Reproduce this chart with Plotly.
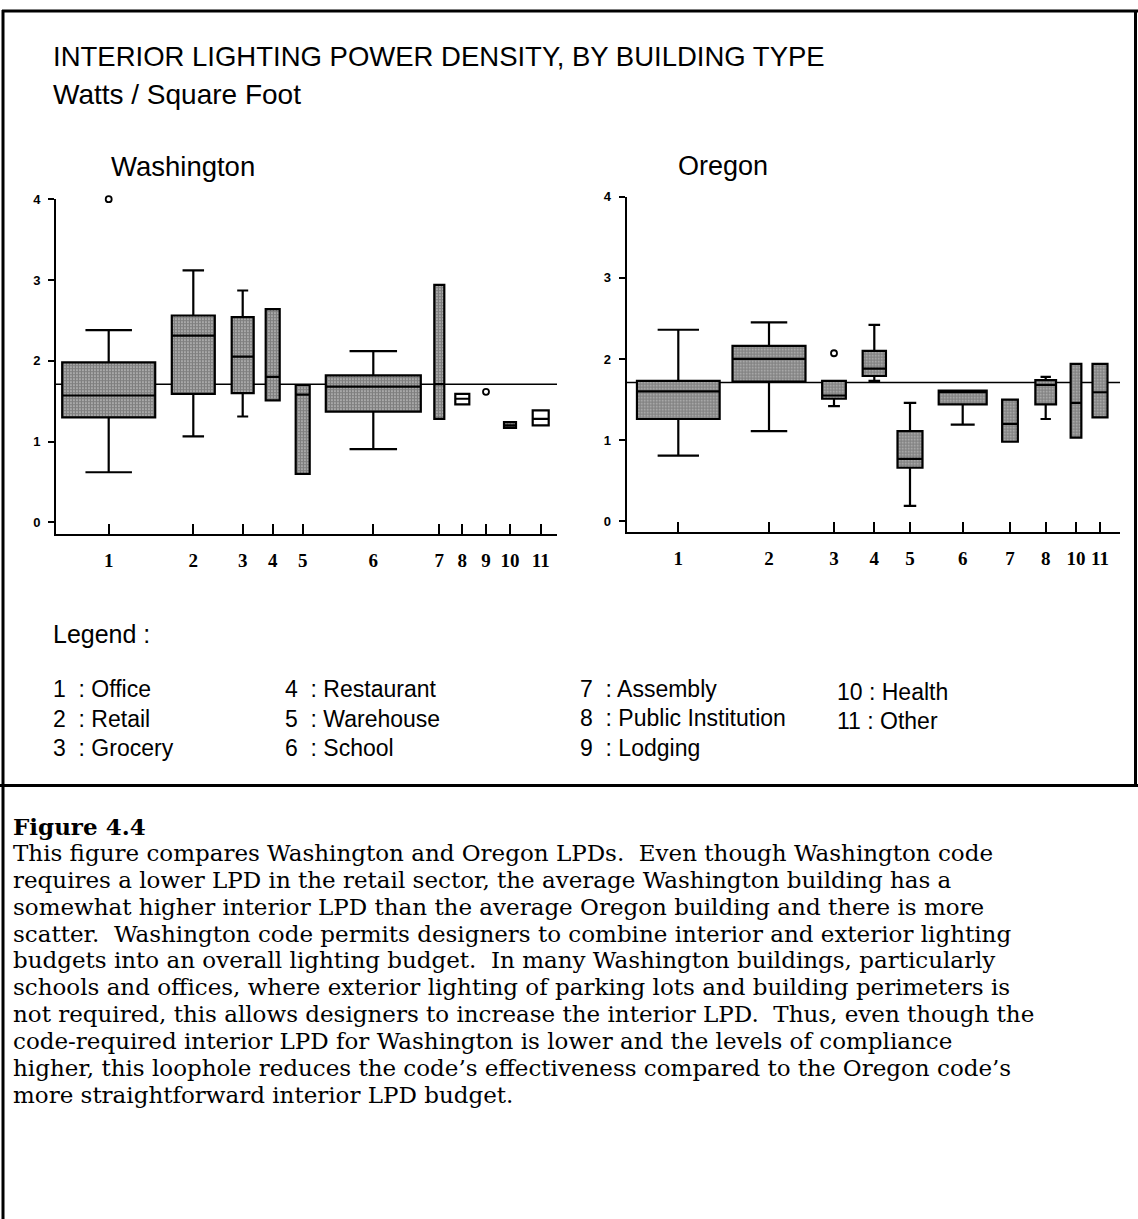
import plotly.graph_objects as go

# ---------------- data ----------------
wa_codes = ["1", "2", "3", "4", "5", "6", "7", "8", "9", "10", "11"]
wa_lo  = [0.62, 1.065, 1.31, 1.51, 0.60, 0.905, 1.28, 1.46, None, 1.17, 1.20]
wa_q1  = [1.30, 1.59, 1.60, 1.51, 0.60, 1.37, 1.28, 1.46, None, 1.17, 1.20]
wa_med = [1.57, 2.31, 2.05, 1.80, 1.58, 1.68, 1.71, 1.53, None, 1.20, 1.28]
wa_q3  = [1.98, 2.56, 2.54, 2.64, 1.70, 1.82, 2.94, 1.59, None, 1.24, 1.385]
wa_hi  = [2.38, 3.12, 2.87, 2.64, 1.70, 2.12, 2.94, 1.59, None, 1.24, 1.385]
wa_pt_codes = ["1", "9"]
wa_pt_vals = [4.00, 1.615]

or_codes = ["1", "2", "3", "4", "5", "6", "7", "8", "10", "11"]
or_lo  = [0.81, 1.11, 1.42, 1.73, 0.19, 1.19, 0.98, 1.26, 1.03, 1.28]
or_q1  = [1.26, 1.72, 1.51, 1.79, 0.66, 1.44, 0.98, 1.44, 1.03, 1.28]
or_med = [1.60, 2.00, 1.55, 1.88, 0.77, 1.59, 1.20, 1.68, 1.46, 1.59]
or_q3  = [1.73, 2.16, 1.73, 2.10, 1.11, 1.61, 1.50, 1.74, 1.94, 1.94]
or_hi  = [2.36, 2.45, 1.73, 2.42, 1.46, 1.61, 1.50, 1.78, 1.94, 1.94]
or_pt_codes = ["3"]
or_pt_vals = [2.07]

code_ref = 1.71  # reference LPD line

legend_items = ["1  : Office", "2  : Retail", "3  : Grocery",
                "4  : Restaurant", "5  : Warehouse", "6  : School",
                "7  : Assembly", "8  : Public Institution", "9  : Lodging",
                "10 : Health", "11 : Other"]

caption_title = "Figure 4.4"
caption_lines = [
    "This figure compares Washington and Oregon LPDs.  Even though Washington code",
    "requires a lower LPD in the retail sector, the average Washington building has a",
    "somewhat higher interior LPD than the average Oregon building and there is more",
    "scatter.  Washington code permits designers to combine interior and exterior lighting",
    "budgets into an overall lighting budget.  In many Washington buildings, particularly",
    "schools and offices, where exterior lighting of parking lots and building perimeters is",
    "not required, this allows designers to increase the interior LPD.  Thus, even though the",
    "code-required interior LPD for Washington is lower and the levels of compliance",
    "higher, this loophole reduces the code\u2019s effectiveness compared to the Oregon code\u2019s",
    "more straightforward interior LPD budget.",
]

# ---------------- layout constants (slot positions / widths on the variable-width axis) ----------------
W, H = 1138, 1219
wa_slot = [52.7, 137.3, 186.7, 216.7, 246.7, 317.3, 383.3, 406.3, 430, 454, 484.7]
wa_width = [93, 43, 22, 14, 14, 95, 10, 14, 0, 12, 16]
wa_fill = [True, True, True, True, True, True, True, False, False, True, False]
or_slot = [51.6, 142.3, 207.3, 247.6, 283.3, 336, 383.3, 419, 449.3, 473.3]
or_width = [82.7, 73, 23.7, 23.3, 25, 48, 15.7, 20.7, 10.7, 15]
or_fill = [True] * 10

def px(x):
    return x / W

def py(y):
    return 1 - y / H

fig = go.Figure()

pattern = dict(shape=".", fgcolor="black", bgcolor="white", size=3, solidity=0.8)

def add_panel(codes, lo, q1, med, q3, hi, slots, widths, fills, pt_codes, pt_vals, xa, ya):
    pos = dict(zip(codes, slots))
    for c, a, b, w, f, s in zip(codes, q1, q3, widths, fills, slots):
        if a is None or not f:
            continue
        fig.add_trace(go.Bar(x=[s], y=[b - a], base=[a], width=w, xaxis=xa, yaxis=ya,
                             marker=dict(color="white", pattern=pattern, line=dict(width=0)),
                             showlegend=False, hoverinfo="skip"))
    for c, l, a, m, b, h, w, s in zip(codes, lo, q1, med, q3, hi, widths, slots):
        if a is None:
            continue
        fig.add_trace(go.Box(x=[s], lowerfence=[l], q1=[a], median=[m], q3=[b], upperfence=[h],
                             width=w, whiskerwidth=0.5, xaxis=xa, yaxis=ya,
                             fillcolor="rgba(0,0,0,0)", line=dict(color="black", width=2.2),
                             boxpoints=False, showlegend=False, hoverinfo="skip"))
    fig.add_trace(go.Scatter(x=[pos[c] for c in pt_codes], y=pt_vals, mode="markers",
                             xaxis=xa, yaxis=ya, cliponaxis=False,
                             marker=dict(symbol="circle-open", size=6, color="black",
                                         line=dict(width=1.8)),
                             showlegend=False, hoverinfo="skip"))
    return pos

wa_pos = add_panel(wa_codes, wa_lo, wa_q1, wa_med, wa_q3, wa_hi, wa_slot, wa_width, wa_fill,
                   wa_pt_codes, wa_pt_vals, "x", "y")
or_pos = add_panel(or_codes, or_lo, or_q1, or_med, or_q3, or_hi, or_slot, or_width, or_fill,
                   or_pt_codes, or_pt_vals, "x2", "y2")

xcommon = dict(showgrid=False, zeroline=False, showline=True, linecolor="black", linewidth=2,
               ticks="inside", ticklen=10, tickwidth=2, tickcolor="black",
               tickfont=dict(family="Liberation Serif", size=19, color="black", weight="bold"),
               ticklabelstandoff=8, fixedrange=True)
ycommon = dict(showgrid=False, zeroline=False, showline=True, linecolor="black", linewidth=2,
               ticks="outside", ticklen=6, tickwidth=1.5, tickcolor="black",
               tickvals=[0, 1, 2, 3, 4], ticktext=["0", "1", "2", "3", "4"],
               tickfont=dict(family="Liberation Sans", size=13, color="black", weight="bold"),
               ticklabelstandoff=5, fixedrange=True)

fig.update_layout(
    width=W, height=H, margin=dict(l=0, r=0, t=0, b=0),
    paper_bgcolor="white", plot_bgcolor="white",
    barmode="overlay", boxmode="overlay", showlegend=False,
    xaxis=dict(domain=[px(56), px(557)], range=[0, 501], anchor="y",
               tickvals=wa_slot, ticktext=wa_codes, **xcommon),
    yaxis=dict(domain=[py(530), py(193.3)], range=[-0.144, 4], anchor="x", **ycommon),
    xaxis2=dict(domain=[px(626.7), px(1120)], range=[0, 493.3], anchor="y2",
                tickvals=or_slot, ticktext=or_codes, **xcommon),
    yaxis2=dict(domain=[py(528.3), py(190.7)], range=[-0.135, 4], anchor="x2", **ycommon),
)

for xr, yr in (("x", "y"), ("x2", "y2")):
    fig.add_shape(type="line", xref=f"{xr} domain", yref=yr, x0=0, x1=1, y0=code_ref, y1=code_ref,
                  line=dict(color="black", width=1.5), layer="below")

frame = dict(color="black", width=3)
fig.add_shape(type="line", xref="paper", yref="paper", x0=px(2), x1=1, y0=py(4), y1=py(4), line=frame)
fig.add_shape(type="line", xref="paper", yref="paper", x0=px(3), x1=px(3), y0=py(3), y1=0, line=frame)
fig.add_shape(type="line", xref="paper", yref="paper", x0=px(1135.5), x1=px(1135.5), y0=py(3), y1=py(783), line=frame)
fig.add_shape(type="line", xref="paper", yref="paper", x0=0, x1=1, y0=py(783), y1=py(783), line=frame)

sans = "Liberation Sans"
serif = "DejaVu Serif"

def text(x, y, s, size, family=sans, weight="normal", xanchor="left"):
    fig.add_annotation(x=px(x), y=py(y), xref="paper", yref="paper", text=s, showarrow=False,
                       xanchor=xanchor, yanchor="middle", align="left", borderpad=0,
                       font=dict(family=family, size=size, color="black", weight=weight))

text(52, 50, "INTERIOR LIGHTING POWER DENSITY, BY BUILDING TYPE", 27.5)
text(52, 88, "Watts / Square Foot", 28)
text(183, 160, "Washington", 27.5, xanchor="center")
text(723, 160, "Oregon", 27, xanchor="center")
text(52, 631, "Legend :", 25)

cols_x = [52, 284, 579, 836]
rows_y = [[686, 716, 745], [686, 716, 745], [686, 715, 745], [689, 718]]
k = 0
for cx, ys in zip(cols_x, rows_y):
    for yy in ys:
        text(cx, yy, legend_items[k].replace("  ", "\u00a0\u00a0"), 23)
        k += 1

text(12, 824, caption_title, 23, family=serif, weight="bold")
for i, line in enumerate(caption_lines):
    text(12, 851 + 27 * i, line.replace("  ", "\u00a0 "), 23, family=serif)

fig.write_html("out.html",
               config={"displayModeBar": False},
               post_script="document.body.style.margin='0px';"
                           "document.documentElement.style.overflow='hidden';")
